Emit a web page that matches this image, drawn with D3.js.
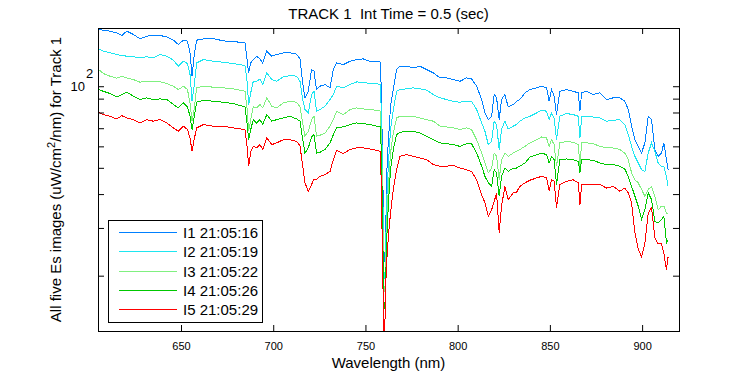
<!DOCTYPE html>
<html>
<head>
<meta charset="utf-8">
<script src="https://cdn.jsdelivr.net/npm/d3@7"></script>
<style>
	body { margin: 0; background: #fff; }
	text { font-family: "Liberation Sans", Arial, sans-serif; fill: #000; }
</style>
</head>
<body>
<div id="div"></div>
<script>
let wavelength = [605.4, 607.9, 611.5, 615.2, 617.9, 620.6, 624.2, 627.8, 631.4, 635.0, 638.6, 642.3, 645.9, 648.6, 651.3, 653.5, 654.9, 656.0, 657.1, 658.5, 662.1, 667.5, 673.0, 678.4, 684.7, 685.8, 686.7, 687.8, 689.2, 691.0, 692.8, 694.3, 696.5, 699.2, 701.9, 705.5, 709.1, 712.7, 714.5, 716.0, 717.2, 719.0,
	720.8, 722.1, 723.5, 725.3, 728.1, 730.8, 732.6, 734.4, 738.0, 741.6, 745.2, 748.8, 752.4, 756.1, 758.2, 758.9, 759.5, 760.0, 760.6, 761.1, 761.8, 762.6, 763.6, 765.1, 766.9, 768.7, 772.3, 775.9, 779.5, 783.2, 786.8, 790.4, 794.0, 797.6, 801.2, 804.8, 807.5, 810.3, 813.0, 814.8, 816.6, 818.4, 819.8, 821.1, 822.5, 823.8, 825.6, 827.4, 830.1,
	831.9, 833.7, 836.5, 839.2, 842.8, 845.5, 848.2, 849.6, 850.9, 852.3, 853.6, 855.4, 859.0, 862.6, 865.4, 866.3, 867.2, 869.9, 873.5, 877.1, 880.7, 884.3, 887.9, 890.6, 892.5, 894.3, 896.1, 897.9, 899.7, 901.5, 903.3, 905.1, 906.9, 908.7, 910.5, 911.8, 913.2, 914.1]

let i1 = [161.9, 161.0, 159.6, 157.4, 153.9, 159.6, 155.2, 149.5, 153.0, 153.9, 153.9, 152.1, 147.9, 142.5, 147.9, 146.6, 132.8, 108.9, 129.1, 147.9, 149.5, 149.9, 147.0, 146.2, 144.5, 125.4, 112.0, 121.9, 125.4, 129.1, 126.1, 121.9, 134.6, 129.1, 130.9, 132.8, 132.8, 131.3, 126.1, 102.9, 90.6, 95.8,
	115.2, 113.6, 97.2, 100, 101.4, 98.6, 115.2, 121.9, 120.2, 123.6, 125.4, 126.1, 123.6, 123.6, 122.6, 75.3, 42.7, 22.3, 24.2, 32.2, 53.6, 65.4, 84.4, 97.2, 115.2, 118.5, 118.5, 116.9, 118.5, 115.2, 112.0, 107.3, 107.3, 105.8, 104.3, 107.3, 106.4, 100, 89.3, 79.7, 75.3, 77.5, 93.2, 90.6, 75.3, 89.3, 93.2, 83.9, 85.6,
	88.0, 89.3, 94.5, 97.2, 98.6, 100, 98.6, 88.0, 97.2, 91.9, 78.6, 95.8, 97.2, 95.8, 94.5, 80.9, 94.5, 95.8, 93.2, 94.5, 89.3, 90.6, 90.6, 88.0, 82.0, 71.2, 63.5, 60.0, 56.7, 61.8, 77.5, 75.3, 58.4, 55.1, 56.7, 61.8, 53.6, 49.2]
let i2 = [137.5, 134.7, 132.8, 130.9, 129.8, 129.1, 128.4, 127.3, 128.4, 127.3, 130.9, 129.1, 124.7, 118.5, 123.6, 121.2, 110.4, 88.0, 100, 121.9, 125.4, 123.6, 122.6, 121.2, 119.2, 104.3, 85.6, 94.5, 104.3, 104.3, 106.4, 101.4, 112.0, 105.8, 104.3, 108.3, 109.5, 108.9, 104.3, 89.3, 82.0, 79.7,
	93.2, 95.8, 80.9, 82.0, 84.4, 89.3, 93.2, 100, 98.6, 101.4, 103.7, 103.5, 102.3, 102.3, 101.1, 65.4, 37.1, 19.3, 20.5, 27.9, 42.7, 53.6, 69.2, 82.0, 95.8, 97.2, 97.8, 98.6, 97.8, 96.7, 93.2, 90.6, 89.3, 88.0, 87.3, 88.0, 88.0, 82.0, 73.2, 68.2, 60.9, 62.7, 74.3, 72.2, 58.4, 69.2, 74.3, 69.6, 71.2,
	72.2, 74.3, 76.4, 77.5, 79.7, 81.5, 80.9, 75.3, 79.7, 76.4, 63.5, 77.5, 79.3, 78.6, 77.5, 64.4, 77.0, 77.5, 77.0, 76.4, 74.3, 74.9, 75.3, 72.2, 66.3, 60.0, 55.1, 52.1, 49.2, 48.5, 56.7, 61.8, 57.5, 52.1, 50.7, 50.7, 46.5, 42.7]
let i3 = [115.2, 111.4, 108.9, 107.0, 108.9, 107.3, 105.8, 103.5, 104.3, 104.3, 104.0, 102.3, 100, 97.2, 100, 97.2, 86.8, 74.3, 82.0, 98.6, 100, 99.2, 98.6, 97.8, 95.8, 83.2, 68.2, 75.3, 83.9, 83.2, 85.6, 83.2, 90.6, 84.4, 83.2, 86.8, 88.0, 87.3, 83.9, 73.2, 65.4, 68.2,
	75.3, 77.5, 65.4, 65.9, 67.2, 71.2, 75.3, 80.9, 78.6, 82.0, 83.2, 82.5, 82.0, 81.5, 80.9, 53.6, 30.4, 17.3, 18.3, 24.2, 35.0, 44.0, 56.7, 67.2, 76.4, 77.5, 77.5, 77.5, 76.4, 75.3, 74.3, 71.2, 70.8, 70.2, 69.2, 70.2, 69.2, 63.5, 56.7, 52.1, 47.9, 49.9, 56.7, 55.1, 45.2, 53.6, 56.7, 55.1, 56.7,
	57.5, 58.4, 60.0, 61.8, 63.5, 65.0, 64.4, 60.0, 63.5, 60.9, 50.7, 61.8, 62.6, 62.1, 60.9, 50.7, 61.8, 61.8, 61.4, 60.0, 59.2, 59.2, 58.4, 56.7, 53.6, 47.9, 45.2, 44.0, 41.6, 39.3, 41.6, 42.7, 39.3, 35.0, 36.1, 36.1, 34.0, 34.0]
let i4 = [97.2, 95.8, 94.0, 91.3, 93.2, 95.0, 91.9, 89.3, 90.6, 89.3, 89.8, 89.3, 85.6, 83.2, 86.8, 83.9, 77.5, 69.2, 76.4, 87.3, 88.8, 88.0, 87.3, 86.3, 83.9, 73.2, 63.5, 69.2, 75.3, 73.2, 75.3, 72.2, 78.6, 74.3, 75.3, 76.4, 77.5, 75.7, 74.3, 63.5, 56.7, 59.2,
	65.0, 66.3, 56.7, 57.0, 58.4, 61.8, 66.3, 70.2, 70.8, 72.2, 73.2, 72.8, 72.2, 71.2, 70.8, 46.5, 25.6, 15.0, 15.8, 21.0, 30.4, 38.2, 49.2, 58.4, 66.3, 67.6, 68.2, 68.2, 67.2, 65.4, 63.5, 61.8, 61.4, 60.9, 60.0, 61.4, 61.4, 56.7, 50.7, 46.5, 44.0, 42.7, 49.2, 47.9, 39.3, 46.5, 49.9, 48.5, 49.9,
	49.9, 50.7, 52.1, 54.8, 55.9, 56.7, 55.9, 52.1, 55.1, 53.6, 43.4, 53.6, 53.9, 53.6, 52.8, 47.9, 53.6, 53.6, 53.3, 52.1, 51.4, 51.4, 50.7, 49.5, 46.5, 42.7, 39.3, 36.1, 32.2, 35.0, 40.4, 38.2, 31.7, 31.3, 32.2, 33.1, 26.4, 27.1]
let i5 = [80.2, 78.6, 77.5, 75.7, 77.9, 76.4, 75.3, 73.2, 75.3, 74.3, 75.3, 73.2, 70.2, 68.2, 71.2, 69.2, 64.4, 57.5, 63.5, 70.2, 72.2, 71.2, 71.2, 70.2, 69.2, 60.0, 50.7, 57.5, 60.0, 59.2, 60.9, 58.4, 64.4, 60.9, 61.8, 63.5, 63.5, 62.6, 60.3, 50.7, 44.0, 41.0,
	43.4, 45.5, 45.2, 46.5, 47.2, 48.5, 53.6, 58.0, 56.4, 58.4, 59.2, 59.2, 58.7, 58.0, 57.5, 32.2, 18.3, 12.0, 13.7, 19.3, 24.2, 28.8, 34.0, 41.6, 49.2, 55.1, 55.9, 55.1, 54.4, 53.6, 51.4, 50.7, 50.7, 51.1, 49.9, 49.2, 48.5, 45.2, 39.8, 37.1, 33.1, 35.0, 37.6, 40.4, 28.8, 36.1, 42.7, 38.2, 40.4,
	40.6, 42.7, 44.0, 45.0, 45.9, 46.5, 45.9, 41.0, 45.2, 44.6, 35.6, 43.4, 44.6, 45.2, 44.0, 36.6, 43.4, 43.4, 43.4, 43.4, 42.1, 42.7, 41.0, 42.1, 40.4, 37.1, 28.8, 25.0, 23.5, 26.4, 34.0, 35.6, 27.6, 26.2, 26.2, 24.2, 21.0, 23.5]

let names = ["I1 21:05:16", "I2 21:05:19", "I3 21:05:22", "I4 21:05:26", "I5 21:05:29"]
let colors = ["#0080ff", "#1ee6f0", "#80f080", "#00c800", "#ff0000"]
let xTicks = [650, 700, 750, 800, 850, 900]
let yTicks = [20, 30, 40, 50, 60, 70, 80, 90, 100]

let series = [i1, i2, i3, i4, i5]

let w = 750, h = 375,
	margins = {left: 98, right: 679, top: 28, bottom: 331},
	svg = d3.select("#div").append("svg")
		.attr("width", w)
		.attr("height", h)

let x = d3.scaleLinear()
	.domain([605, 920])
	.range([margins.left, margins.right])

let y = d3.scaleLog()
	.domain([12.5, 164])
	.range([margins.bottom, margins.top])

svg.append("clipPath")
	.attr("id", "plot")
	.append("rect")
	.attr("x", margins.left)
	.attr("y", margins.top)
	.attr("width", margins.right - margins.left)
	.attr("height", margins.bottom - margins.top)

let line = d3.line()
	.x(d => x(d[0]))
	.y(d => y(d[1]))

// Spectra, I1 first so I5 ends on top
svg.append("g")
	.attr("clip-path", "url(#plot)")
	.selectAll("path")
	.data(series)
	.enter()
	.append("path")
	.attr("d", d => line(d3.zip(wavelength, d)))
	.attr("fill", "none")
	.attr("stroke", (d, i) => colors[i])
	.attr("stroke-width", 1)
	.attr("shape-rendering", "crispEdges")

// Inward ticks on all four sides
let tickLen = 6
let fixAxis = g => {
	g.select(".domain").remove()
	g.selectAll("line").attr("stroke", "#000")
}

svg.append("g")
	.attr("transform", "translate(0," + margins.bottom + ")")
	.call(d3.axisBottom(x).tickValues(xTicks).tickSize(-tickLen).tickPadding(11))
	.call(fixAxis)
	.selectAll("text")
	.attr("font-size", 11)
	.attr("font-family", "Liberation Sans, Arial, sans-serif")

svg.append("g")
	.attr("transform", "translate(0," + margins.top + ")")
	.call(d3.axisTop(x).tickValues(xTicks).tickSize(-tickLen).tickFormat(""))
	.call(fixAxis)

svg.append("g")
	.attr("transform", "translate(" + margins.left + ",0)")
	.call(d3.axisLeft(y).tickValues(yTicks).tickSize(-tickLen).tickFormat(""))
	.call(fixAxis)

svg.append("g")
	.attr("transform", "translate(" + margins.right + ",0)")
	.call(d3.axisRight(y).tickValues(yTicks).tickSize(-tickLen).tickFormat(""))
	.call(fixAxis)

// 10^2 label
svg.append("text")
	.attr("x", margins.left - 13)
	.attr("y", y(100) + 5)
	.attr("text-anchor", "end")
	.attr("font-size", 13)
	.text("10")
svg.append("text")
	.attr("x", margins.left - 12)
	.attr("y", y(100) - 8.5)
	.attr("font-size", 13)
	.text("2")

// Frame
svg.append("rect")
	.attr("x", margins.left + 0.5)
	.attr("y", margins.top + 0.5)
	.attr("width", margins.right - margins.left)
	.attr("height", margins.bottom - margins.top)
	.attr("fill", "none")
	.attr("stroke", "#000")

// Title and axis labels
svg.append("text")
	.attr("x", (margins.left + margins.right) / 2)
	.attr("y", 19)
	.attr("text-anchor", "middle")
	.attr("font-size", 15)
	.text("TRACK 1  Int Time = 0.5 (sec)")
	.style("white-space", "pre")

svg.append("text")
	.attr("x", (margins.left + margins.right) / 2)
	.attr("y", 368)
	.attr("text-anchor", "middle")
	.attr("font-size", 15)
	.text("Wavelength (nm)")

let yLabel = svg.append("text")
	.attr("transform", "translate(61," + (margins.top + margins.bottom) / 2 + ") rotate(-90)")
	.attr("text-anchor", "middle")
	.attr("font-size", 15)
yLabel.append("tspan").text("All five Es images (uW/cm")
yLabel.append("tspan").attr("dy", -6).attr("font-size", 11).text("2")
yLabel.append("tspan").attr("dy", 6).text("/nm) for Track 1")

// Legend
let legend = svg.append("g")
legend.append("rect")
	.attr("x", 108.5)
	.attr("y", 220.5)
	.attr("width", 154)
	.attr("height", 102)
	.attr("fill", "#fff")
	.attr("stroke", "#000")

names.forEach((n, i) => {
	let ly = 232.5 + i * 19.25
	legend.append("line")
		.attr("x1", 119)
		.attr("x2", 177)
		.attr("y1", ly)
		.attr("y2", ly)
		.attr("stroke", colors[i])
		.attr("shape-rendering", "crispEdges")
	legend.append("text")
		.attr("x", 183)
		.attr("y", ly + 5.5)
		.attr("font-size", 15)
		.text(n)
})
</script>
</body>
</html>
